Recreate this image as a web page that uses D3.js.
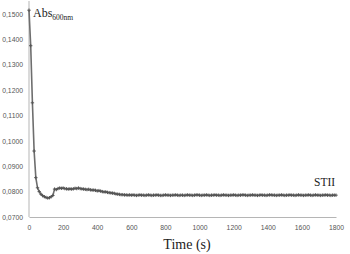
<!DOCTYPE html>
<html>
<head>
<meta charset="utf-8">
<script src="https://cdn.jsdelivr.net/npm/d3@7"></script>
<style>
  body { margin: 0; background: #fff; }
  svg { display: block; }
</style>
</head>
<body>
<div id="chart"></div>
<script>
// Absorbance at 600 nm over time, STII (one reading every 10 s)
const step = 10;
const absValues = [
  0.1515, 0.1375, 0.1150, 0.0960, 0.0855, 0.0815, 0.0800, 0.0790, 0.0784, 0.0780,
  0.0777, 0.0775, 0.0776, 0.0780, 0.0785, 0.0810, 0.0808, 0.0812, 0.0814, 0.0813,
  0.0814, 0.0812, 0.0811, 0.0810, 0.0811, 0.0810, 0.0811, 0.0813, 0.0812, 0.0814,
  0.0812, 0.0811, 0.0810, 0.0809, 0.0808, 0.0809, 0.0807, 0.0806, 0.0806, 0.0805,
  0.0803, 0.0804, 0.0802, 0.0800, 0.0799, 0.0799, 0.0797, 0.0796, 0.0795, 0.0794,
  0.0793, 0.0791, 0.0790, 0.0789, 0.0788, 0.0788, 0.0787, 0.0787, 0.0786, 0.0787,
  0.0786, 0.0787, 0.0786, 0.0785, 0.0786, 0.0787, 0.0786, 0.0786, 0.0785, 0.0786,
  0.0787, 0.0786, 0.0785, 0.0786, 0.0786, 0.0787, 0.0786, 0.0785, 0.0785, 0.0786,
  0.0787, 0.0786, 0.0786, 0.0785, 0.0786, 0.0786, 0.0787, 0.0786, 0.0785, 0.0786,
  0.0786, 0.0785, 0.0786, 0.0787, 0.0786, 0.0786, 0.0785, 0.0786, 0.0787, 0.0787,
  0.0786, 0.0785, 0.0786, 0.0786, 0.0787, 0.0786, 0.0785, 0.0786, 0.0786, 0.0787,
  0.0786, 0.0786, 0.0785, 0.0786, 0.0787, 0.0786, 0.0786, 0.0785, 0.0786, 0.0786,
  0.0787, 0.0786, 0.0785, 0.0786, 0.0786, 0.0787, 0.0787, 0.0786, 0.0785, 0.0786,
  0.0786, 0.0787, 0.0786, 0.0786, 0.0785, 0.0786, 0.0787, 0.0786, 0.0786, 0.0785,
  0.0786, 0.0787, 0.0787, 0.0786, 0.0786, 0.0785, 0.0786, 0.0786, 0.0787, 0.0786,
  0.0785, 0.0786, 0.0786, 0.0787, 0.0786, 0.0786, 0.0785, 0.0786, 0.0787, 0.0786,
  0.0786, 0.0785, 0.0786, 0.0786, 0.0787, 0.0786, 0.0785, 0.0786, 0.0787, 0.0786,
  0.0786, 0.0785, 0.0786, 0.0786, 0.0787, 0.0786, 0.0786, 0.0785, 0.0786, 0.0786,
  0.0786
];
const xTicks = [0, 200, 400, 600, 800, 1000, 1200, 1400, 1600, 1800];
const yTicks = [0.07, 0.08, 0.09, 0.10, 0.11, 0.12, 0.13, 0.14, 0.15];

const W = 350, H = 254;
const x = d3.scaleLinear().domain([0, 1800]).range([29, 336]);
const y = d3.scaleLinear().domain([0.07, 0.15]).range([217, 14]);

const svg = d3.select('#chart').append('svg')
  .attr('width', W).attr('height', H);

const fmt = v => d3.format('.4f')(v).replace('.', ',');

// axes
const xAxis = svg.append('g')
  .attr('transform', `translate(0,${y(0.07)})`)
  .call(d3.axisBottom(x).tickValues(xTicks).tickSize(0).tickPadding(8).tickFormat(d => d));
const yAxis = svg.append('g')
  .attr('transform', `translate(${x(0)},0)`)
  .call(d3.axisLeft(y).tickValues(yTicks).tickSize(0).tickPadding(6).tickFormat(fmt));

[xAxis, yAxis].forEach(a => {
  a.select('.domain').attr('stroke', '#b5b5b5').attr('stroke-width', 1);
  a.selectAll('text')
    .attr('fill', '#555')
    .style('font-family', 'Liberation Sans, Arial, sans-serif')
    .style('font-size', '6.8px');
});
yAxis.select('.domain').attr('d', `M0,${y(0.07)}V1`);

// data
const pts = absValues.map((v, i) => ({ t: i * step, v }));

const line = d3.line().x(d => x(d.t)).y(d => y(d.v));
svg.append('path')
  .datum(pts)
  .attr('d', line)
  .attr('fill', 'none')
  .attr('stroke', '#6e6e6e')
  .attr('stroke-width', 1.6);

// small cross markers
const s = 1.7;
svg.append('g').selectAll('path')
  .data(pts)
  .join('path')
  .attr('d', d => `M${x(d.t) - s},${y(d.v)}H${x(d.t) + s}M${x(d.t)},${y(d.v) - s}V${y(d.v) + s}`)
  .attr('stroke', '#555')
  .attr('stroke-width', 1);

// labels
const lab = svg.append('text')
  .attr('x', 33).attr('y', 17)
  .style('font-family', 'Liberation Serif, Times New Roman, serif')
  .style('font-size', '12px')
  .attr('fill', '#222');
lab.append('tspan').text('Abs');
lab.append('tspan').attr('dy', 2.5).style('font-size', '7.5px').text('600nm');

svg.append('text')
  .attr('x', 314).attr('y', 186)
  .style('font-family', 'Liberation Serif, Times New Roman, serif')
  .style('font-size', '11.5px')
  .attr('fill', '#222')
  .text('STII');

svg.append('text')
  .attr('x', 187).attr('y', 249)
  .attr('text-anchor', 'middle')
  .style('font-family', 'Liberation Serif, Times New Roman, serif')
  .style('font-size', '14px')
  .attr('fill', '#222')
  .text('Time (s)');
</script>
</body>
</html>
